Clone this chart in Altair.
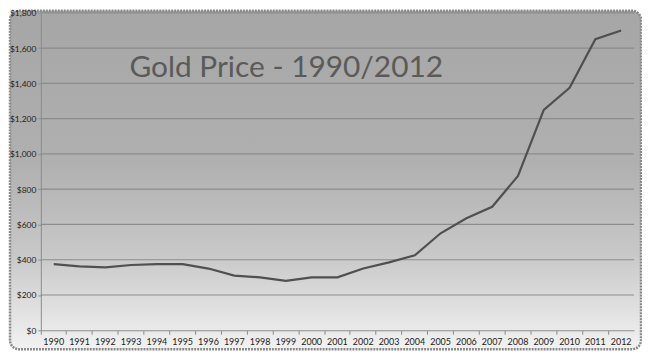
import altair as alt
import pandas as pd

years = [str(y) for y in range(1990, 2013)]
prices = [375, 362, 357, 370, 375, 375, 350, 310, 300, 280, 300, 300,
          350, 385, 425, 550, 635, 700, 875, 1250, 1375, 1650, 1700]
y_ticks = [0, 200, 400, 600, 800, 1000, 1200, 1400, 1600, 1800]
title_text = "Gold Price - 1990/2012"

df = pd.DataFrame({"year": years, "price": prices})
grid_df = pd.DataFrame({"v": y_ticks[1:]})

W, H = 596, 319
PAD = {"left": 33, "top": 4, "right": 8, "bottom": 20}

xscale = alt.Scale(type="band", paddingInner=0, paddingOuter=0, domain=years)
yscale = alt.Scale(domain=[0, 1800], nice=False)

yaxis = alt.Axis(title=None, values=y_ticks, format="$,.0f",
                 labelFont="Lato", labelFontSize=8.5, labelColor="#222222",
                 domainColor="#8c8c8c", tickColor="#8c8c8c",
                 tickSize=3, labelPadding=2, zindex=1, grid=False)

bg = alt.Chart(pd.DataFrame({"a": [0]})).mark_rect(
    cornerRadius=9,
    stroke="#8a8a8a",
    strokeWidth=2.5,
    strokeDash=[2, 1],
    color=alt.Gradient(
        gradient="linear",
        stops=[
            alt.GradientStop(color="#a6a6a6", offset=0),
            alt.GradientStop(color="#b0b0b0", offset=0.45),
            alt.GradientStop(color="#c8c8c8", offset=0.72),
            alt.GradientStop(color="#f2f2f2", offset=1),
        ],
        x1=0, x2=0, y1=0, y2=1,
    ),
).encode(
    x=alt.value(-31), x2=alt.value(W + 7),
    y=alt.value(-2), y2=alt.value(H + 19),
)

grid = alt.Chart(grid_df).mark_rule(color="#8c8c8c", strokeWidth=1.2).encode(
    y=alt.Y("v:Q", scale=yscale, axis=yaxis),
    x=alt.value(0), x2=alt.value(W),
)

line = alt.Chart(df).mark_line(color="#505050", strokeWidth=2.2).encode(
    x=alt.X("year:O", scale=xscale, bandPosition=0.5,
            axis=alt.Axis(title=None, bandPosition=0, labelAngle=0,
                          labelFont="Lato", labelFontSize=9, labelColor="#222222",
                          domainColor="#8c8c8c", tickColor="#8c8c8c",
                          tickSize=4, labelPadding=3, zindex=1, grid=False)),
    y=alt.Y("price:Q", scale=yscale, axis=yaxis),
)

title = alt.Chart(pd.DataFrame({"t": [title_text]})).mark_text(
    align="left", baseline="alphabetic", font="Lato", fontSize=30,
    color="#5a5a5a",
).encode(text="t:N", x=alt.value(89), y=alt.value(65))

chart = alt.layer(bg, grid, line, title).properties(
    width=W, height=H,
    autosize=alt.AutoSizeParams(type="none"),
    padding=PAD,
).configure_view(stroke=None).configure(background="white")

chart.save("out.html", embed_options={"renderer": "svg", "actions": False})
